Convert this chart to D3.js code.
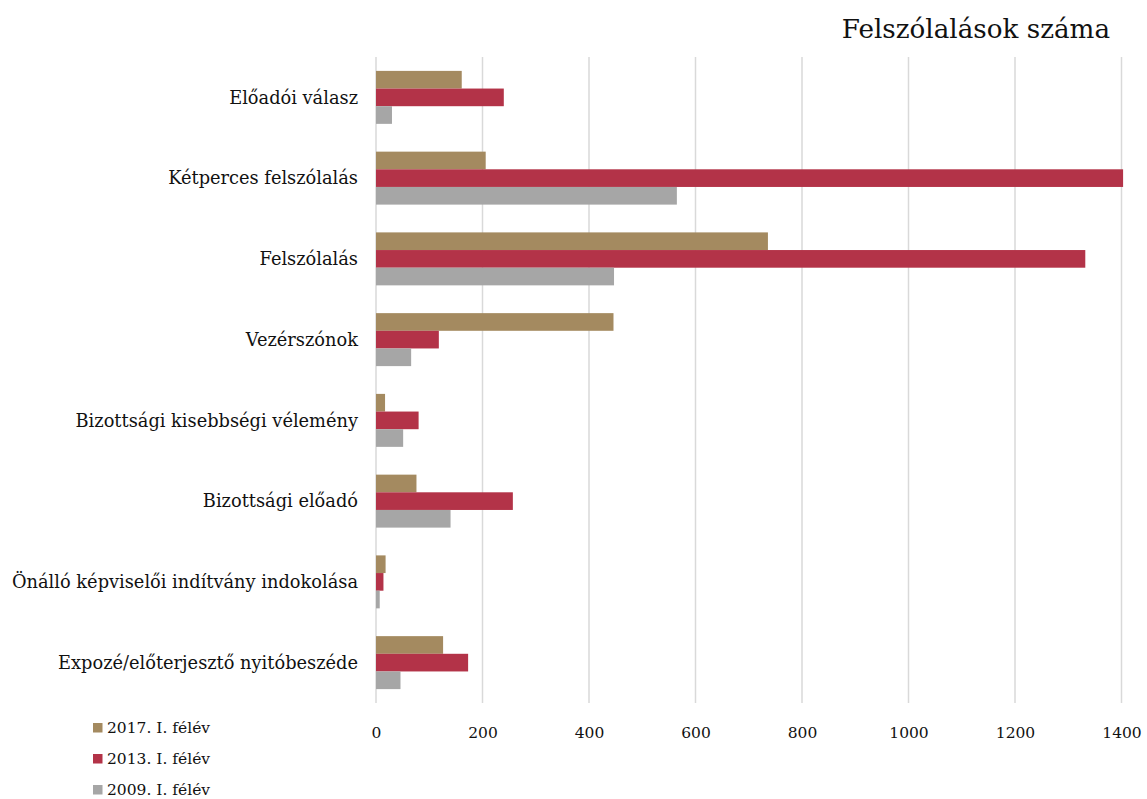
<!DOCTYPE html>
<html>
<head>
<meta charset="utf-8">
<script src="https://cdn.jsdelivr.net/npm/d3@7"></script>
<style>
  body { margin: 0; background: #fff; }
  svg text { font-family: "DejaVu Serif", "Liberation Serif", serif; fill: #111; }
</style>
</head>
<body>
<div id="chart"></div>
<script>
const categories = [
  "Előadói válasz",
  "Kétperces felszólalás",
  "Felszólalás",
  "Vezérszónok",
  "Bizottsági kisebbségi vélemény",
  "Bizottsági előadó",
  "Önálló képviselői indítvány indokolása",
  "Expozé/előterjesztő nyitóbeszéde"
];
const seriesNames = ["2017. I. félév", "2013. I. félév", "2009. I. félév"];
const values2017 = [161, 206, 736, 446, 17, 76, 18, 126];
const values2013 = [240, 1403, 1332, 118, 80, 257, 14, 173];
const values2009 = [30, 565, 447, 66, 51, 140, 7, 46];
const tickValues = [0, 200, 400, 600, 800, 1000, 1200, 1400];
const colors = ["#a48a60", "#b33348", "#a6a6a6"];

const allSeries = [values2017, values2013, values2009];
const rows = categories.map((c, i) => ({
  cat: c,
  vals: seriesNames.map((s, j) => ({ s, v: allSeries[j][i] }))
}));

const width = 1147, height = 799;
const svg = d3.select("#chart").append("svg").attr("width", width).attr("height", height);

const x = d3.scaleLinear().domain([0, 1400]).range([376, 1121.5]);
const y0 = d3.scaleBand().domain(categories).range([57, 703]).paddingInner(0.344).paddingOuter(0.172);
const y1 = d3.scaleBand().domain(seriesNames).range([0, y0.bandwidth()]);
const color = d3.scaleOrdinal().domain(seriesNames).range(colors);

// gridlines
svg.append("g")
  .selectAll("line")
  .data(tickValues)
  .enter().append("line")
  .attr("x1", d => x(d)).attr("x2", d => x(d))
  .attr("y1", 57).attr("y2", 703)
  .attr("stroke", "#d9d9d9").attr("stroke-width", 1.5);

// bars
const groups = svg.append("g").selectAll("g")
  .data(rows)
  .enter().append("g")
  .attr("transform", d => `translate(0,${y0(d.cat)})`);

groups.selectAll("rect")
  .data(d => d.vals)
  .enter().append("rect")
  .attr("x", x(0))
  .attr("y", d => y1(d.s))
  .attr("width", d => x(d.v) - x(0))
  .attr("height", y1.bandwidth())
  .attr("fill", d => color(d.s));

// category labels
svg.append("g").selectAll("text")
  .data(categories)
  .enter().append("text")
  .attr("x", 358)
  .attr("y", d => y0(d) + y0.bandwidth() / 2)
  .attr("dy", "0.35em")
  .attr("text-anchor", "end")
  .attr("font-size", "17.8px")
  .text(d => d);

// x axis
const xAxis = svg.append("g")
  .attr("transform", "translate(0,703)")
  .call(d3.axisBottom(x).tickValues(tickValues).tickFormat(d3.format("d")).tickSize(0).tickPadding(24));
xAxis.select(".domain").remove();
xAxis.selectAll("text")
  .attr("font-size", "15.5px")
  .style("font-family", "'DejaVu Serif', serif")
  .attr("fill", "#111");

// title
svg.append("text")
  .attr("x", 1110).attr("y", 38)
  .attr("text-anchor", "end")
  .attr("font-size", "26.2px")
  .text("Felszólalások száma");

// legend
const legend = svg.append("g").attr("transform", "translate(93,723)");
const items = legend.selectAll("g")
  .data(seriesNames)
  .enter().append("g")
  .attr("transform", (d, i) => `translate(0,${i * 31})`);
items.append("rect").attr("width", 9.5).attr("height", 9.5).attr("fill", d => color(d));
items.append("text").attr("x", 14).attr("y", 10).attr("font-size", "15.5px").text(d => d);
</script>
</body>
</html>
